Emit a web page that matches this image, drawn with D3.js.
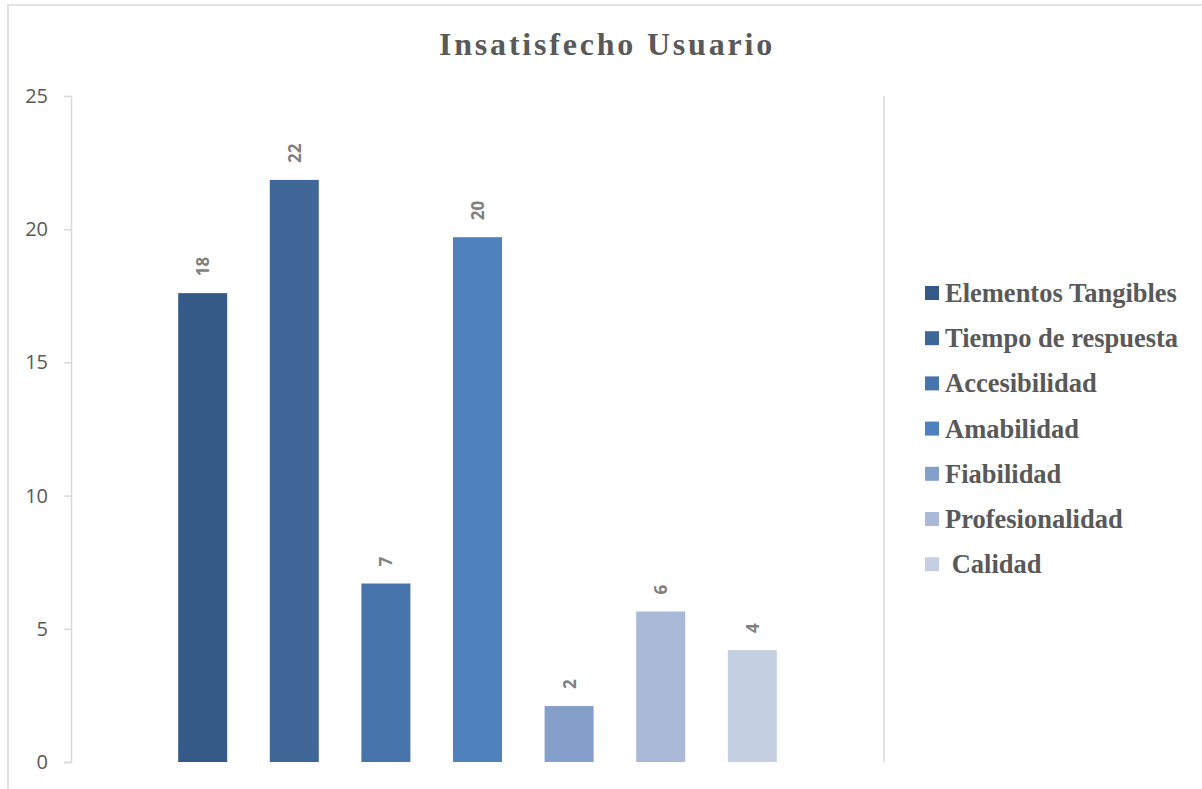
<!DOCTYPE html>
<html>
<head>
<meta charset="utf-8">
<script src="https://cdn.jsdelivr.net/npm/d3@7"></script>
<style>
  body { margin: 0; background: #fff; }
  svg { display: block; }
</style>
</head>
<body>
<svg id="chart" width="1202" height="789"></svg>
<script>
// datos
const categorias = ['Elementos Tangibles', 'Tiempo de respuesta', 'Accesibilidad', 'Amabilidad', 'Fiabilidad', 'Profesionalidad', ' Calidad'];
const valores = [17.6, 21.85, 6.7, 19.7, 2.1, 5.65, 4.2];
const etiquetas = [18, 22, 7, 20, 2, 6, 4];
const colores = ['#355a87', '#3f6899', '#4774ab', '#4f81bd', '#84a0ca', '#aab9d7', '#c4cfe2'];
const ticksY = [0, 5, 10, 15, 20, 25];

const width = 1202;
const height = 789;
let svg = d3.select('#chart');

// borde exterior
svg.append('rect')
  .attr('x', 8).attr('y', 5)
  .attr('width', 1210).attr('height', 800)
  .attr('fill', 'none')
  .attr('stroke', '#d9d9d9')
  .attr('stroke-width', 1.5);

// titulo
svg.append('text')
  .attr('x', 607).attr('y', 55)
  .attr('text-anchor', 'middle')
  .attr('font-family', '"Liberation Serif", "Times New Roman", serif')
  .attr('font-weight', 'bold')
  .attr('font-size', 32)
  .attr('letter-spacing', 2.8)
  .attr('fill', '#595959')
  .text('Insatisfecho Usuario');

const x0 = 71, x1 = 884;
let y = d3.scaleLinear().domain([0, 25]).range([762, 96]);
let x = d3.scaleBand().domain(categorias).range([x0, x1]).paddingInner(0.465).paddingOuter(1.17);

// eje y
let yAxis = svg.append('g')
  .attr('transform', `translate(${x0},0)`)
  .call(d3.axisLeft(y).tickValues(ticksY).tickSize(7).tickPadding(16).tickFormat(d3.format('d')));
yAxis.select('.domain').attr('stroke', '#d9d9d9').attr('stroke-width', 1.5);
yAxis.selectAll('.tick line').attr('stroke', '#d9d9d9').attr('stroke-width', 1.5);
yAxis.selectAll('.tick text')
  .attr('fill', '#595959')
  .attr('font-family', '"Open Sans", sans-serif')
  .attr('font-size', 20);

// linea derecha del area de trazado
svg.append('line')
  .attr('x1', x1).attr('x2', x1)
  .attr('y1', 96).attr('y2', 762)
  .attr('stroke', '#d9d9d9').attr('stroke-width', 1.5);

// barras
svg.append('g').selectAll('rect').data(valores).join('rect')
  .attr('x', (d, i) => x(categorias[i]))
  .attr('y', d => y(d))
  .attr('width', x.bandwidth())
  .attr('height', d => y(0) - y(d))
  .attr('fill', (d, i) => colores[i]);

// etiquetas de valor (rotadas)
svg.append('g').selectAll('text').data(valores).join('text')
  .attr('transform', (d, i) => `translate(${x(categorias[i]) + x.bandwidth() / 2},${y(d) - 17}) rotate(-90)`)
  .attr('dominant-baseline', 'central')
  .attr('font-family', '"Open Sans", sans-serif')
  .attr('font-weight', 'bold')
  .attr('font-size', 17)
  .attr('fill', '#808080')
  .text((d, i) => etiquetas[i]);

// leyenda
let legend = svg.append('g').selectAll('g').data(categorias).join('g')
  .attr('transform', (d, i) => `translate(925,${293 + i * 45.2})`);
legend.append('rect')
  .attr('x', 0).attr('y', -7)
  .attr('width', 14).attr('height', 14)
  .attr('fill', (d, i) => colores[i]);
legend.append('text')
  .attr('x', 20).attr('y', 9)
  .attr('font-family', '"Liberation Serif", "Times New Roman", serif')
  .attr('font-weight', 'bold')
  .attr('font-size', 26.5)
  .attr('fill', '#595959')
  .attr('xml:space', 'preserve')
  .style('white-space', 'pre')
  .text(d => d);
</script>
</body>
</html>
